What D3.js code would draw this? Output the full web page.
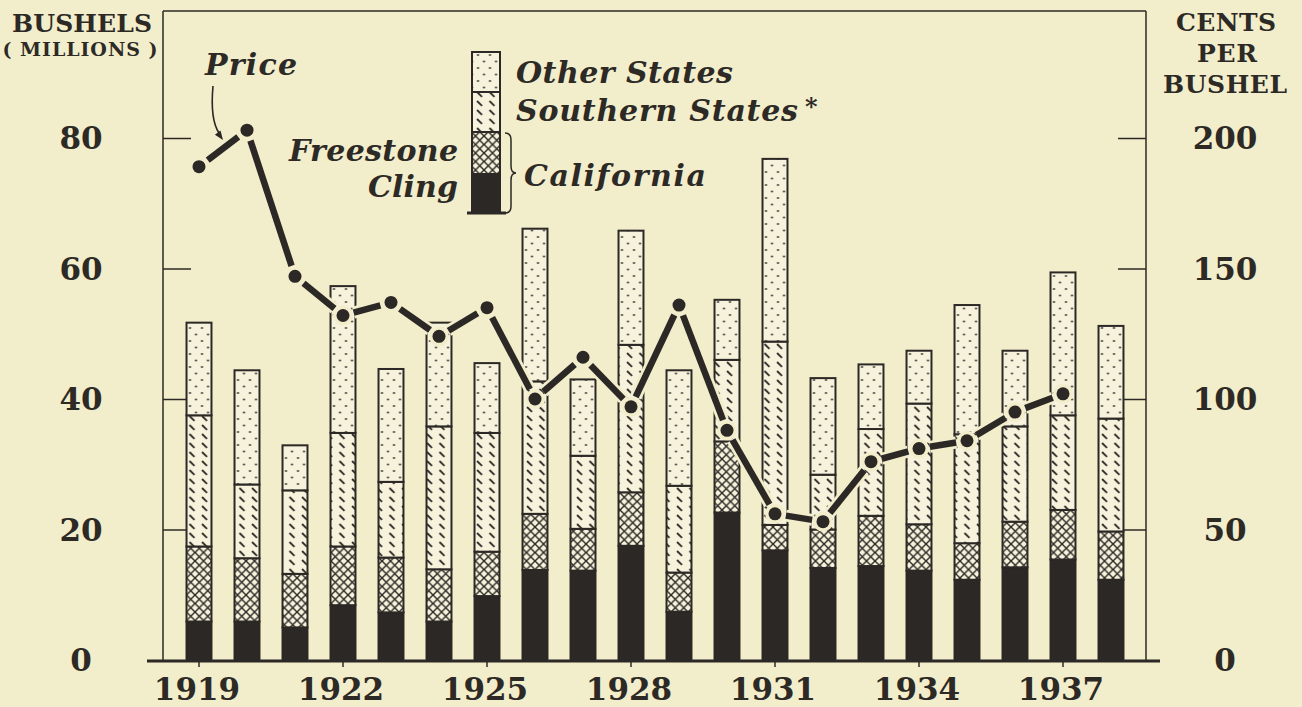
<!DOCTYPE html>
<html><head><meta charset="utf-8">
<script src="https://cdn.jsdelivr.net/npm/d3@7"></script>
<style>
html,body{margin:0;padding:0;background:#f2edcb;}
svg{display:block;}
text{font-family:"DejaVu Serif",serif;fill:#2d2a26;}
</style></head><body>
<svg id="c" width="1302" height="707"></svg>
<script>
// ---- data (millions of bushels / cents per bushel) ----
const years = [1919,1920,1921,1922,1923,1924,1925,1926,1927,1928,1929,1930,1931,1932,1933,1934,1935,1936,1937,1938];
const cling     = [5.9,5.9,5.0,8.4,7.3,5.9,9.8,13.8,13.7,17.5,7.4,22.6,16.8,14.1,14.4,13.7,12.3,14.2,15.4,12.3];
const freestone = [11.5,9.7,8.2,9.0,8.4,8.0,6.8,8.6,6.4,8.2,6.0,10.9,3.9,5.9,7.7,7.1,5.6,7.0,7.6,7.4];
const southern  = [20.1,11.3,12.8,17.4,11.6,21.9,18.2,20.3,11.2,22.6,13.3,12.5,28.1,8.4,13.3,18.5,16.7,14.6,14.5,17.3];
const other     = [14.2,17.5,6.9,22.5,17.3,15.9,10.7,23.4,11.7,17.5,17.7,9.2,28.0,14.8,9.9,8.1,19.8,11.6,21.9,14.2];
const price     = [189,203,147,132,137,124,135,100,116,97,136,88,56,53,76,81,84,95,102,null];
const leftTicks  = [0,20,40,60,80];
const rightTicks = [0,50,100,150,200];
const yearLabels = [1919,1922,1925,1928,1931,1934,1937];
const keys = ["cling","freestone","southern","other"];

const INK = "#2b2825", BG = "#f2edcb", BARBG = "#f6f2dc";
const svg = d3.select("#c");
svg.append("rect").attr("width",1302).attr("height",707).attr("fill",BG);

// ---- scales ----
const x = d3.scaleBand().domain(years).range([175,1135]).paddingInner(0.48).paddingOuter(0.24);
const yL = d3.scaleLinear().domain([0,80]).range([660,138]);
const yR = d3.scaleLinear().domain([0,200]).range([660,138]);
const x0 = x(years[0]);

// ---- patterns ----
const defs = svg.append("defs");
const pd = defs.append("pattern").attr("id","pDots").attr("patternUnits","userSpaceOnUse").attr("x",x0).attr("width",12).attr("height",13);
pd.append("rect").attr("width",12).attr("height",13).attr("fill",BARBG);
pd.append("circle").attr("cx",3.5).attr("cy",3).attr("r",1.05).attr("fill",INK);
pd.append("circle").attr("cx",9.5).attr("cy",9.5).attr("r",1.05).attr("fill",INK);
const ph = defs.append("pattern").attr("id","pDiag").attr("patternUnits","userSpaceOnUse").attr("x",x0).attr("width",12.5).attr("height",9);
ph.append("rect").attr("width",12.5).attr("height",9).attr("fill",BARBG);
ph.append("path").attr("d","M3,2L8,6.8").attr("stroke",INK).attr("stroke-width",1.8);
const pc = defs.append("pattern").attr("id","pCross").attr("patternUnits","userSpaceOnUse").attr("x",x0).attr("width",8.5).attr("height",8.5);
pc.append("rect").attr("width",8.5).attr("height",8.5).attr("fill",BARBG);
pc.append("path").attr("d","M0,0L8.5,8.5M8.5,0L0,8.5").attr("stroke",INK).attr("stroke-width",1.4);
const fills = {cling:INK, freestone:"url(#pCross)", southern:"url(#pDiag)", other:"url(#pDots)"};

// ---- frame & axes ----
svg.append("line").attr("x1",163).attr("x2",1146).attr("y1",11).attr("y2",11).attr("stroke",INK).attr("stroke-width",1.5);
const axL = svg.append("g").attr("transform","translate(163,0)")
  .call(d3.axisRight(yL).tickValues(leftTicks.filter(d=>d>0)).tickSize(28).tickFormat(""));
const axR = svg.append("g").attr("transform","translate(1146,0)")
  .call(d3.axisLeft(yR).tickValues(rightTicks.filter(d=>d>0)).tickSize(28).tickFormat(""));
[axL,axR].forEach(a=>{
  a.select(".domain").attr("d","M0,11V661").attr("stroke",INK).attr("stroke-width",1.5);
  a.selectAll(".tick line").attr("stroke",INK).attr("stroke-width",1.5);
});

// tick labels
svg.append("g").selectAll("text").data(leftTicks).join("text")
  .attr("x",81).attr("y",d=>yL(d)).attr("dy","0.36em").attr("text-anchor","middle")
  .attr("font-size",31).attr("font-weight","bold").text(d=>d);
svg.append("g").selectAll("text").data(rightTicks).join("text")
  .attr("x",1225).attr("y",d=>yR(d)).attr("dy","0.36em").attr("text-anchor","middle")
  .attr("font-size",31).attr("font-weight","bold").text(d=>d);

// axis titles
const title = (t,xx,yy,fs,len)=>svg.append("text").attr("x",xx).attr("y",yy).attr("text-anchor","middle")
  .attr("font-size",fs).attr("font-weight","bold").attr("textLength",len).attr("lengthAdjust","spacing").text(t);
title("BUSHELS",82,32,25,140);
title("( MILLIONS )",80,56,19,155);
title("CENTS",1226,31,25,100);
title("PER",1227,62,25,60);
title("BUSHEL",1225,93,25,124);

// ---- bars ----
const table = years.map((yr,i)=>({year:yr, cling:cling[i], freestone:freestone[i], southern:southern[i], other:other[i]}));
const stack = d3.stack().keys(keys)(table);
const gBars = svg.append("g");
stack.forEach(layer=>{
  gBars.append("g").selectAll("rect").data(layer).join("rect")
    .attr("x",d=>x(d.data.year)).attr("width",x.bandwidth())
    .attr("y",d=>yL(d[1])).attr("height",d=>yL(d[0])-yL(d[1]))
    .attr("fill",fills[layer.key]).attr("stroke",INK).attr("stroke-width",2);
});

// baseline + year ticks
const axB = svg.append("g").attr("transform","translate(0,661)")
  .call(d3.axisBottom(x).tickValues(yearLabels).tickSize(6).tickFormat(""));
axB.select(".domain").attr("d","M147,0H1160").attr("stroke",INK).attr("stroke-width",3);
axB.selectAll(".tick line").attr("stroke",INK).attr("stroke-width",1.5);
svg.append("g").selectAll("text").data(yearLabels).join("text")
  .attr("x",d=>x(d)+x.bandwidth()/2-2).attr("y",700).attr("text-anchor","middle")
  .attr("font-size",31).attr("font-weight","bold").text(d=>d);

// ---- price line ----
const pts = years.map((yr,i)=>({x:x(yr)+x.bandwidth()/2, y:price[i]==null?null:yR(price[i])})).filter(d=>d.y!=null);
const gap = 11;
const segs = d3.pairs(pts).map(([a,b])=>{
  const dx=b.x-a.x, dy=b.y-a.y, L=Math.hypot(dx,dy);
  return {x1:a.x+dx*gap/L, y1:a.y+dy*gap/L, x2:b.x-dx*gap/L, y2:b.y-dy*gap/L};
});
const gP = svg.append("g");
gP.selectAll("line.h").data(segs).join("line").attr("class","h")
  .attr("x1",d=>d.x1).attr("y1",d=>d.y1).attr("x2",d=>d.x2).attr("y2",d=>d.y2)
  .attr("stroke",BG).attr("stroke-width",12);
gP.selectAll("circle.h").data(pts).join("circle").attr("class","h")
  .attr("cx",d=>d.x).attr("cy",d=>d.y).attr("r",10).attr("fill",BG);
gP.selectAll("line.l").data(segs).join("line").attr("class","l")
  .attr("x1",d=>d.x1).attr("y1",d=>d.y1).attr("x2",d=>d.x2).attr("y2",d=>d.y2)
  .attr("stroke",INK).attr("stroke-width",6.5);
gP.selectAll("circle.d").data(pts).join("circle").attr("class","d")
  .attr("cx",d=>d.x).attr("cy",d=>d.y).attr("r",6.5).attr("fill",INK);

// Price label + arrow
const lbl = (t,xx,yy,anchor,len)=>{
  const s = svg.append("text").attr("x",xx).attr("y",yy).attr("text-anchor",anchor||"start")
    .attr("font-size",30).attr("font-weight","bold").attr("font-style","italic").text(t);
  if(len) s.attr("textLength",len).attr("lengthAdjust","spacing");
  return s;
};
lbl("Price",205,75,"start",92);
svg.append("path").attr("d","M213,86C211,108 213,124 219,133").attr("fill","none").attr("stroke",INK).attr("stroke-width",1.6);
svg.append("path").attr("d","M223,140L214.9,134.8L220.5,130.6Z").attr("fill",INK);

// ---- legend ----
const lg = svg.append("g");
const lx = 472, lw = 28;
[["other",52,92],["southern",92,132],["freestone",132,174],["cling",174,213]].forEach(([k,y0,y1])=>{
  lg.append("rect").attr("x",lx).attr("y",y0).attr("width",lw).attr("height",y1-y0)
    .attr("fill",fills[k]).attr("stroke",INK).attr("stroke-width",2);
});
lg.append("line").attr("x1",467).attr("x2",506).attr("y1",213).attr("y2",213).attr("stroke",INK).attr("stroke-width",3);
lg.append("path").attr("d","M505,133Q511,133 511,140L511,166Q511,173 516,173Q511,173 511,180L511,206Q511,213 505,213")
  .attr("fill","none").attr("stroke",INK).attr("stroke-width",1.5);
lbl("Other States",516,83,"start",217);
lbl("Southern States",516,121,"start",282);
svg.append("text").attr("x",805).attr("y",115).attr("font-size",24).attr("font-weight","bold").text("*");
lbl("California",524,186,"start",182);
lbl("Freestone",458,161,"end",169);
lbl("Cling",458,197,"end",90);
</script>
</body></html>
